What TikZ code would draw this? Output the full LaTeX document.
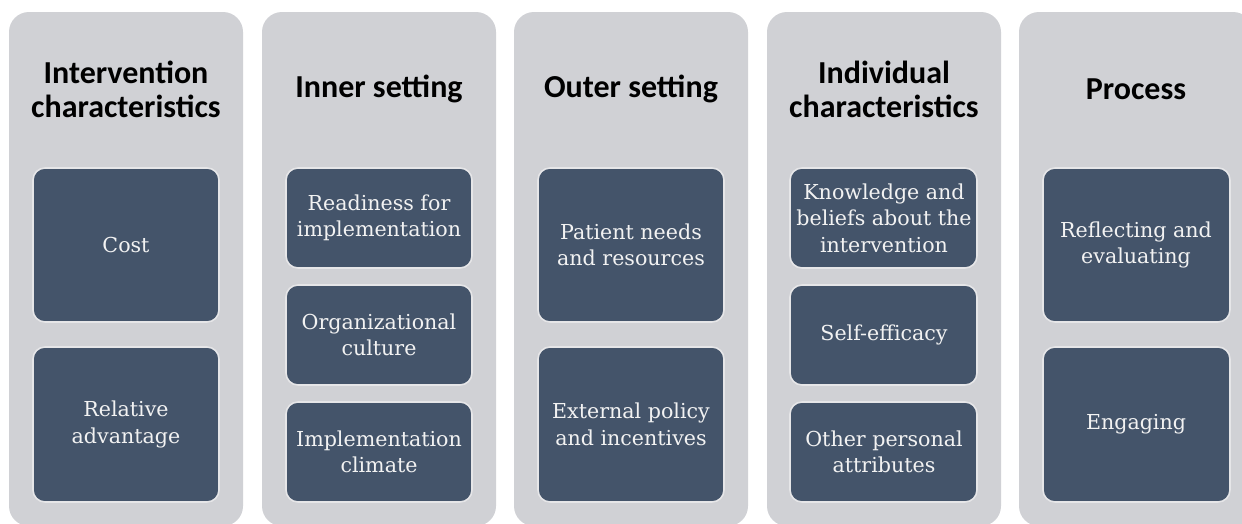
\documentclass[tikz,border=0pt]{standalone}
\usepackage{fontspec}
\setmainfont{DejaVu Serif}
\newfontfamily\titlefont{Carlito}
\begin{document}
\begin{tikzpicture}[x=1pt,y=-1pt]
\definecolor{colgrey}{RGB}{208,209,213}
\definecolor{boxblue}{RGB}{68,84,106}
\definecolor{boxedge}{RGB}{230,230,232}
\definecolor{boxtext}{RGB}{242,242,242}
\tikzset{
  column/.style={fill=colgrey, draw=none, rounded corners=20pt},
  card/.style={fill=boxblue, draw=boxedge, line width=1.6pt, rounded corners=12pt},
  cardtext/.style={text=boxtext, align=center, font=\fontsize{20.6}{26.5}\selectfont},
  coltitle/.style={text=black, align=center, font=\titlefont\bfseries\fontsize{32}{34}\selectfont}
}
\useasboundingbox (0,0) rectangle (1242,523);
\fill[white] (0,0) rectangle (1242,523);
\begin{scope}
\clip (0,0) rectangle (1242,523);
\foreach \x/\n in {9/c1,262/c2,514/c3,767/c4,1019/c5}{
  \path[column] (\x,12) rectangle ++(234,514);
}
\end{scope}
% titles
\node[coltitle] (t1) at (126,89) {Intervention\\characteristics};
\node[coltitle] (t2) at (379,89) {Inner setting};
\node[coltitle] (t3) at (631,89) {Outer setting};
\node[coltitle] (t4) at (884,89) {Individual\\characteristics};
\node[coltitle] (t5) at (1136,89) {Process};
% column 1
\draw[card] (33,168) rectangle (219,322);
\node[cardtext] (a1) at (126,245) {Cost};
\draw[card] (33,347) rectangle (219,502);
\node[cardtext] (a2) at (126,424.5) {Relative\\advantage};
% column 2
\draw[card] (286,168) rectangle (472,268);
\node[cardtext] (b1) at (379,218) {Readiness for\\implementation};
\draw[card] (286,285) rectangle (472,385);
\node[cardtext] (b2) at (379,335) {Organizational\\culture};
\draw[card] (286,402) rectangle (472,502);
\node[cardtext] (b3) at (379,452) {Implementation\\climate};
% column 3
\draw[card] (538,168) rectangle (724,322);
\node[cardtext] (c1) at (631,245) {Patient needs\\and resources};
\draw[card] (538,347) rectangle (724,502);
\node[cardtext] (c2) at (631,424.5) {External policy\\and incentives};
% column 4
\draw[card] (790,168) rectangle (977,268);
\node[cardtext] (d1) at (884,218) {Knowledge and\\beliefs about the\\intervention};
\draw[card] (790,285) rectangle (977,385);
\node[cardtext] (d2) at (884,335) {Self-efficacy};
\draw[card] (790,402) rectangle (977,502);
\node[cardtext] (d3) at (884,452) {Other personal\\attributes};
% column 5
\draw[card] (1043,168) rectangle (1230,322);
\node[cardtext] (e1) at (1136,245) {Reflecting and\\evaluating};
\draw[card] (1043,347) rectangle (1230,502);
\node[cardtext] (e2) at (1136,424.5) {Engaging};
\end{tikzpicture}
\end{document}
